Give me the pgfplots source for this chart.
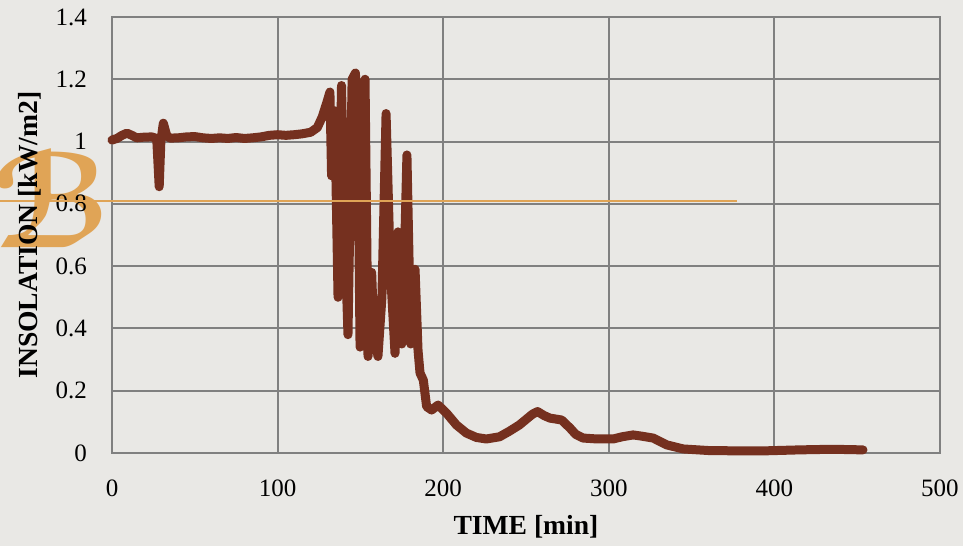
\documentclass[border=0pt]{standalone}
\usepackage{pgfplots}
\pgfplotsset{compat=1.18}
\usepackage{fontspec}
\setmainfont{Liberation Serif}
\newfontfamily\symfont{DejaVu Sans}
\definecolor{bg}{HTML}{E9E8E5}
\definecolor{gridc}{HTML}{808080}
\definecolor{linec}{HTML}{75301F}
\definecolor{deco}{HTML}{E0A456}
\begin{document}
\begin{tikzpicture}
\fill[bg] (0,0) rectangle (481.5pt,273pt);
\useasboundingbox (0,0) rectangle (481.5pt,273pt);
\node[deco, font=\symfont\bfseries\fontsize{64}{64}\selectfont] at (26pt,174pt) {ℬ};
\begin{axis}[
  at={(56pt,46.5pt)}, anchor=south west,
  scale only axis, width=414pt, height=218pt,
  xmin=0, xmax=500, ymin=0, ymax=1.4,
  xtick={0,100,...,500}, ytick={0,0.2,...,1.4},
  grid=major,
  major grid style={gridc, line width=1pt},
  axis line style={gridc, line width=1pt},
  tick style={draw=none},
  clip=false,
  /pgf/number format/assume math mode=true,
  ticklabel style={font=\fontsize{12.5}{14}\selectfont},
  yticklabel style={xshift=-9pt},
  xticklabel style={yshift=-10pt},
  xlabel={\textbf{TIME [min]}},
  ylabel={\textbf{INSOLATION [kW/m2]}},
  label style={font=\fontsize{13.8}{15}\selectfont},
  xlabel style={at={(axis description cs:0.5,-0.17)}, anchor=center},
  ylabel style={at={(axis description cs:-0.099,0.5)}, anchor=center, rotate=0},
]
\addplot[linec, line width=4.5pt, line join=round, line cap=round] coordinates {
(0,1.005)(3,1.01)(6,1.02)(9,1.027)(12,1.02)(15,1.012)(19,1.014)(24,1.015)(27,1.01)
(28.5,0.855)(29.5,1.0)(31,1.059)(33,1.02)(35,1.011)(40,1.012)(45,1.015)(50,1.016)
(55,1.012)(60,1.01)(65,1.012)(70,1.01)(75,1.013)(80,1.01)(85,1.012)(90,1.015)
(95,1.02)(100,1.022)(105,1.02)(110,1.022)(115,1.025)(120,1.03)(124,1.045)(127,1.08)
(130,1.13)(131.6,1.159)(132.6,0.89)(134,1.1)(135,0.95)(136.5,0.50)(138.6,1.18)
(140,0.8)(142.5,0.38)(145,1.2)(147,1.22)(148.5,1.0)(149.8,0.34)(151,1.15)(152.8,1.20)
(154.6,0.31)(156.8,0.58)(158,0.40)(160.6,0.31)(163,0.5)(165.5,1.09)(168,0.6)
(170.9,0.32)(172.7,0.71)(175,0.35)(176,0.5)(178.1,0.957)(180.4,0.35)(183,0.59)
(184.8,0.33)(186,0.257)(188,0.234)(190,0.149)(193,0.138)(196.9,0.154)(202,0.128)
(208,0.09)(214,0.064)(220,0.05)(226,0.045)(234,0.052)(240,0.07)(246,0.09)(251,0.112)
(254,0.125)(257,0.133)(261,0.12)(264.5,0.112)(271.5,0.106)(276.6,0.08)(280,0.06)
(284.5,0.048)(293,0.045)(302.6,0.045)(308,0.052)(314.7,0.058)(320,0.054)(326.8,0.048)
(335,0.026)(345,0.013)(360,0.008)(375,0.007)(395,0.007)(415,0.01)(435,0.012)(453.5,0.01)
};
\end{axis}
\draw[deco, line width=1.2pt] (0,{(546-201)*0.5pt}) -- (368.5pt,{(546-201)*0.5pt});
\end{tikzpicture}
\end{document}
